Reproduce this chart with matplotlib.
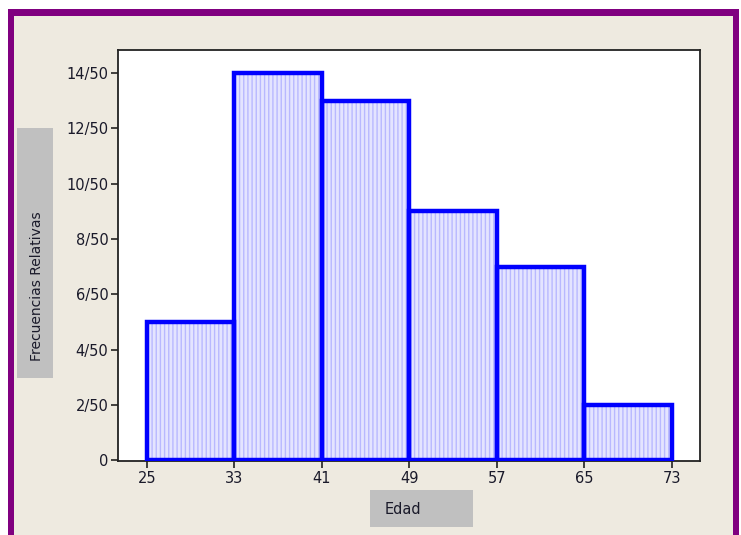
import matplotlib
matplotlib.use("Agg")
import matplotlib.pyplot as plt
from matplotlib.patches import Rectangle

bin_edges = [25, 33, 41, 49, 57, 65, 73]
counts = [5, 14, 13, 9, 7, 2]
total = 50
y_ticks = [0, 2, 4, 6, 8, 10, 12, 14]
y_tick_labels = ["0", "2/50", "4/50", "6/50", "8/50", "10/50", "12/50", "14/50"]
x_label = "Edad"
y_label = "Frecuencias Relativas"

W, H = 741, 535
fig = plt.figure(figsize=(W / 100, H / 100), dpi=100, facecolor="white")

def fx(px):
    return px / W

def fy(py):
    return 1 - py / H

# purple frame and beige panel
fig.patches.append(Rectangle((fx(8), fy(560)), fx(739) - fx(8), fy(9) - fy(560),
                             transform=fig.transFigure, facecolor="#800080", edgecolor="none", zorder=-10))
fig.patches.append(Rectangle((fx(14), fy(560)), fx(733) - fx(14), fy(16) - fy(560),
                             transform=fig.transFigure, facecolor="#EEEAE0", edgecolor="none", zorder=-9))

ax = fig.add_axes([fx(118), fy(461), fx(700) - fx(118), fy(50) - fy(461)])
ax.set_zorder(5)
ax.set_facecolor("white")

widths = [bin_edges[i + 1] - bin_edges[i] for i in range(len(counts))]
lefts = bin_edges[:-1]
# hatched light fill
ax.bar(lefts, counts, width=widths, align="edge", facecolor="#E4E4FF",
       edgecolor="#B8B8FF", linewidth=0, hatch="||||", zorder=2)
# thick blue outlines
ax.bar(lefts, counts, width=widths, align="edge", facecolor="none",
       edgecolor="#0000FF", linewidth=3.2, zorder=3)

ax.set_xlim(22.35, 75.6)
ax.set_ylim(-0.03, 14.83)
ax.set_xticks(bin_edges)
ax.set_xticklabels([str(v) for v in bin_edges])
ax.set_yticks(y_ticks)
ax.set_yticklabels(y_tick_labels)
ax.tick_params(axis="both", direction="out", length=5, width=1.2, color="#222222",
               labelsize=10.5, labelcolor="#1a1a2a", pad=2)
for s in ax.spines.values():
    s.set_linewidth(1.3)
    s.set_color("#222222")

# gray label boxes
fig.patches.append(Rectangle((fx(17), fy(378)), fx(53) - fx(17), fy(128) - fy(378),
                             transform=fig.transFigure, facecolor="#C0C0C0", edgecolor="none", zorder=1))
fig.text(fx(37), fy(286), y_label, rotation=90, ha="center", va="center",
         fontsize=10, color="#1a1a2a", zorder=2)
fig.patches.append(Rectangle((fx(370), fy(527)), fx(473) - fx(370), fy(490) - fy(527),
                             transform=fig.transFigure, facecolor="#C0C0C0", edgecolor="none", zorder=1))
fig.text(fx(403), fy(509), x_label, ha="center", va="center",
         fontsize=10.5, color="#1a1a2a", zorder=2)

fig.savefig("out.png", dpi=100, facecolor="white")
